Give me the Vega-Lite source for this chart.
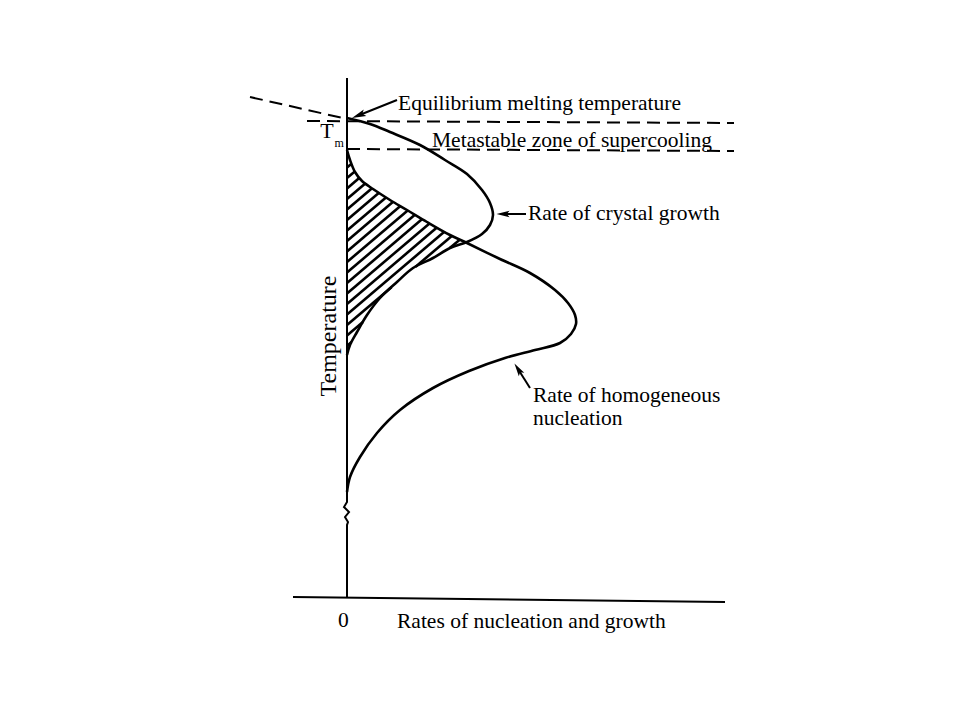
{
  "$schema": "https://vega.github.io/schema/vega-lite/v6.json",
  "width": 960,
  "height": 720,
  "autosize": "none",
  "padding": 0,
  "background": "white",
  "config": {"view": {"stroke": null}},
  "datasets": {
    "curves": [
      {"series": "growth", "i": 0, "x": 0, "t": 4.82},
      {"series": "growth", "i": 1, "x": 0.23, "t": 4.76},
      {"series": "growth", "i": 2, "x": 0.43, "t": 4.68},
      {"series": "growth", "i": 3, "x": 0.73, "t": 4.55},
      {"series": "growth", "i": 4, "x": 0.98, "t": 4.40},
      {"series": "growth", "i": 5, "x": 1.20, "t": 4.26},
      {"series": "growth", "i": 6, "x": 1.35, "t": 4.10},
      {"series": "growth", "i": 7, "x": 1.43, "t": 3.97},
      {"series": "growth", "i": 8, "x": 1.46, "t": 3.85},
      {"series": "growth", "i": 9, "x": 1.43, "t": 3.75},
      {"series": "growth", "i": 10, "x": 1.35, "t": 3.66},
      {"series": "growth", "i": 11, "x": 1.20, "t": 3.58},
      {"series": "growth", "i": 12, "x": 1.03, "t": 3.52},
      {"series": "growth", "i": 13, "x": 0.86, "t": 3.42},
      {"series": "growth", "i": 14, "x": 0.66, "t": 3.32},
      {"series": "growth", "i": 15, "x": 0.50, "t": 3.18},
      {"series": "growth", "i": 16, "x": 0.33, "t": 3.02},
      {"series": "growth", "i": 17, "x": 0.20, "t": 2.85},
      {"series": "growth", "i": 18, "x": 0.10, "t": 2.68},
      {"series": "growth", "i": 19, "x": 0.03, "t": 2.55},
      {"series": "growth", "i": 20, "x": 0, "t": 2.45},
      {"series": "nucleation", "i": 0, "x": 0, "t": 4.50},
      {"series": "nucleation", "i": 1, "x": 0.03, "t": 4.40},
      {"series": "nucleation", "i": 2, "x": 0.08, "t": 4.28},
      {"series": "nucleation", "i": 3, "x": 0.15, "t": 4.19},
      {"series": "nucleation", "i": 4, "x": 0.26, "t": 4.11},
      {"series": "nucleation", "i": 5, "x": 0.43, "t": 4.00},
      {"series": "nucleation", "i": 6, "x": 0.60, "t": 3.90},
      {"series": "nucleation", "i": 7, "x": 0.80, "t": 3.78},
      {"series": "nucleation", "i": 8, "x": 1.03, "t": 3.65},
      {"series": "nucleation", "i": 9, "x": 1.20, "t": 3.57},
      {"series": "nucleation", "i": 10, "x": 1.53, "t": 3.41},
      {"series": "nucleation", "i": 11, "x": 1.83, "t": 3.27},
      {"series": "nucleation", "i": 12, "x": 2.08, "t": 3.10},
      {"series": "nucleation", "i": 13, "x": 2.21, "t": 2.97},
      {"series": "nucleation", "i": 14, "x": 2.28, "t": 2.85},
      {"series": "nucleation", "i": 15, "x": 2.29, "t": 2.76},
      {"series": "nucleation", "i": 16, "x": 2.24, "t": 2.66},
      {"series": "nucleation", "i": 17, "x": 2.13, "t": 2.57},
      {"series": "nucleation", "i": 18, "x": 1.88, "t": 2.50},
      {"series": "nucleation", "i": 19, "x": 1.58, "t": 2.42},
      {"series": "nucleation", "i": 20, "x": 1.22, "t": 2.29},
      {"series": "nucleation", "i": 21, "x": 0.86, "t": 2.12},
      {"series": "nucleation", "i": 22, "x": 0.53, "t": 1.90},
      {"series": "nucleation", "i": 23, "x": 0.30, "t": 1.67},
      {"series": "nucleation", "i": 24, "x": 0.13, "t": 1.43},
      {"series": "nucleation", "i": 25, "x": 0.03, "t": 1.23},
      {"series": "nucleation", "i": 26, "x": 0, "t": 1.08}
    ],
    "hatch": [
      {"x": 0, "t": 4.43, "x2": 0.017, "t2": 4.444},
      {"x": 0, "t": 4.325, "x2": 0.045, "t2": 4.363},
      {"x": 0, "t": 4.22, "x2": 0.078, "t2": 4.286},
      {"x": 0, "t": 4.115, "x2": 0.125, "t2": 4.222},
      {"x": 0, "t": 4.01, "x2": 0.183, "t2": 4.166},
      {"x": 0, "t": 3.905, "x2": 0.25, "t2": 4.117},
      {"x": 0, "t": 3.80, "x2": 0.32, "t2": 4.072},
      {"x": 0, "t": 3.695, "x2": 0.39, "t2": 4.026},
      {"x": 0, "t": 3.59, "x2": 0.461, "t2": 3.982},
      {"x": 0, "t": 3.485, "x2": 0.534, "t2": 3.939},
      {"x": 0, "t": 3.38, "x2": 0.607, "t2": 3.896},
      {"x": 0, "t": 3.275, "x2": 0.679, "t2": 3.852},
      {"x": 0, "t": 3.17, "x2": 0.752, "t2": 3.809},
      {"x": 0, "t": 3.065, "x2": 0.825, "t2": 3.766},
      {"x": 0, "t": 2.96, "x2": 0.899, "t2": 3.724},
      {"x": 0, "t": 2.855, "x2": 0.973, "t2": 3.682},
      {"x": 0, "t": 2.75, "x2": 0.445, "t2": 3.128},
      {"x": 0.686, "t": 3.333, "x2": 1.048, "t2": 3.641},
      {"x": 0, "t": 2.645, "x2": 0.159, "t2": 2.78},
      {"x": 1.028, "t": 3.519, "x2": 1.124, "t2": 3.60},
      {"x": 0, "t": 2.54, "x2": 0.045, "t2": 2.579}
    ],
    "axis": [
      {"i": 0, "x": 0, "t": 5.22},
      {"i": 1, "x": 0, "t": 0.98},
      {"i": 2, "x": -0.03, "t": 0.93},
      {"i": 3, "x": 0.02, "t": 0.88},
      {"i": 4, "x": -0.02, "t": 0.83},
      {"i": 5, "x": 0.01, "t": 0.78},
      {"i": 6, "x": 0, "t": 0.75},
      {"i": 7, "x": 0, "t": 0.02}
    ],
    "dashed": [
      {"x": -0.97, "t": 5.03, "x2": 0, "t2": 4.81},
      {"x": -0.40, "t": 4.79, "x2": 3.87, "t2": 4.77},
      {"x": 0, "t": 4.51, "x2": 3.87, "t2": 4.49}
    ],
    "baseline": [
      {"x": -0.54, "t": 0.03, "x2": 3.78, "t2": -0.02}
    ],
    "arrowshafts": [
      {"x": 0.50, "t": 5.00, "x2": 0.10, "t2": 4.84},
      {"x": 1.79, "t": 3.86, "x2": 1.55, "t2": 3.86},
      {"x": 1.83, "t": 2.12, "x2": 1.71, "t2": 2.31}
    ],
    "labels": [
      {"label": "Equilibrium melting temperature", "x": 0.51, "t": 4.90},
      {"label": "Metastable zone of supercooling", "x": 0.85, "t": 4.53},
      {"label": "Rate of crystal growth", "x": 1.81, "t": 3.80},
      {"label": "Rate of homogeneous", "x": 1.86, "t": 1.98},
      {"label": "nucleation", "x": 1.86, "t": 1.75},
      {"label": "Rates of nucleation and growth", "x": 0.50, "t": -0.28},
      {"label": "0", "x": -0.09, "t": -0.27}
    ]
  },
  "layer": [
    {
      "data": {"name": "hatch"},
      "mark": {"type": "rule", "color": "black", "strokeWidth": 2.6},
      "encoding": {
        "x": {"field": "x", "type": "quantitative", "scale": {"domain": [-3.47, 6.13], "nice": false, "zero": false}, "axis": null},
        "y": {"field": "t", "type": "quantitative", "scale": {"domain": [-1.2, 6.0], "nice": false, "zero": false}, "axis": null},
        "x2": {"field": "x2"},
        "y2": {"field": "t2"}
      }
    },
    {
      "data": {"name": "dashed"},
      "mark": {"type": "rule", "color": "black", "strokeWidth": 2, "strokeDash": [13, 7]},
      "encoding": {
        "x": {"field": "x", "type": "quantitative", "scale": {"domain": [-3.47, 6.13], "nice": false, "zero": false}, "axis": null},
        "y": {"field": "t", "type": "quantitative", "scale": {"domain": [-1.2, 6.0], "nice": false, "zero": false}, "axis": null},
        "x2": {"field": "x2"},
        "y2": {"field": "t2"}
      }
    },
    {
      "data": {"name": "baseline"},
      "mark": {"type": "rule", "color": "black", "strokeWidth": 2},
      "encoding": {
        "x": {"field": "x", "type": "quantitative", "scale": {"domain": [-3.47, 6.13], "nice": false, "zero": false}, "axis": null},
        "y": {"field": "t", "type": "quantitative", "scale": {"domain": [-1.2, 6.0], "nice": false, "zero": false}, "axis": null},
        "x2": {"field": "x2"},
        "y2": {"field": "t2"}
      }
    },
    {
      "data": {"name": "axis"},
      "mark": {"type": "line", "color": "black", "strokeWidth": 2},
      "encoding": {
        "x": {"field": "x", "type": "quantitative", "scale": {"domain": [-3.47, 6.13], "nice": false, "zero": false}, "axis": null},
        "y": {"field": "t", "type": "quantitative", "scale": {"domain": [-1.2, 6.0], "nice": false, "zero": false}, "axis": null},
        "order": {"field": "i"}
      }
    },
    {
      "data": {"name": "curves"},
      "mark": {"type": "line", "color": "black", "strokeWidth": 2.6, "interpolate": "catmull-rom"},
      "encoding": {
        "x": {"field": "x", "type": "quantitative", "scale": {"domain": [-3.47, 6.13], "nice": false, "zero": false}, "axis": null},
        "y": {"field": "t", "type": "quantitative", "scale": {"domain": [-1.2, 6.0], "nice": false, "zero": false}, "axis": null},
        "detail": {"field": "series"},
        "order": {"field": "i"}
      }
    },
    {
      "data": {"name": "arrowshafts"},
      "mark": {"type": "rule", "color": "black", "strokeWidth": 2},
      "encoding": {
        "x": {"field": "x", "type": "quantitative", "scale": {"domain": [-3.47, 6.13], "nice": false, "zero": false}, "axis": null},
        "y": {"field": "t", "type": "quantitative", "scale": {"domain": [-1.2, 6.0], "nice": false, "zero": false}, "axis": null},
        "x2": {"field": "x2"},
        "y2": {"field": "t2"}
      }
    },
    {
      "data": {"values": [{"x": 0.115, "t": 4.846}]},
      "mark": {"type": "point", "shape": "M-1,0L1,-0.5L0.6,0L1,0.5Z", "filled": true, "color": "black", "opacity": 1, "size": 200, "angle": 338},
      "encoding": {
        "x": {"field": "x", "type": "quantitative", "scale": {"domain": [-3.47, 6.13], "nice": false, "zero": false}, "axis": null},
        "y": {"field": "t", "type": "quantitative", "scale": {"domain": [-1.2, 6.0], "nice": false, "zero": false}, "axis": null}
      }
    },
    {
      "data": {"values": [{"x": 1.56, "t": 3.86}]},
      "mark": {"type": "point", "shape": "M-1,0L1,-0.5L0.6,0L1,0.5Z", "filled": true, "color": "black", "opacity": 1, "size": 170, "angle": 0},
      "encoding": {
        "x": {"field": "x", "type": "quantitative", "scale": {"domain": [-3.47, 6.13], "nice": false, "zero": false}, "axis": null},
        "y": {"field": "t", "type": "quantitative", "scale": {"domain": [-1.2, 6.0], "nice": false, "zero": false}, "axis": null}
      }
    },
    {
      "data": {"values": [{"x": 1.71, "t": 2.31}]},
      "mark": {"type": "point", "shape": "M-1,0L1,-0.5L0.6,0L1,0.5Z", "filled": true, "color": "black", "opacity": 1, "size": 170, "angle": 57},
      "encoding": {
        "x": {"field": "x", "type": "quantitative", "scale": {"domain": [-3.47, 6.13], "nice": false, "zero": false}, "axis": null},
        "y": {"field": "t", "type": "quantitative", "scale": {"domain": [-1.2, 6.0], "nice": false, "zero": false}, "axis": null}
      }
    },
    {
      "data": {"name": "labels"},
      "mark": {"type": "text", "font": "Liberation Serif", "fontSize": 21.5, "color": "black", "align": "left", "baseline": "alphabetic"},
      "encoding": {
        "x": {"field": "x", "type": "quantitative", "scale": {"domain": [-3.47, 6.13], "nice": false, "zero": false}, "axis": null},
        "y": {"field": "t", "type": "quantitative", "scale": {"domain": [-1.2, 6.0], "nice": false, "zero": false}, "axis": null},
        "text": {"field": "label"}
      }
    },
    {
      "data": {"values": [{"label": "T", "x": -0.20, "t": 4.62}]},
      "mark": {"type": "text", "font": "Liberation Serif", "fontSize": 22, "color": "black", "align": "center", "baseline": "alphabetic"},
      "encoding": {
        "x": {"field": "x", "type": "quantitative", "scale": {"domain": [-3.47, 6.13], "nice": false, "zero": false}, "axis": null},
        "y": {"field": "t", "type": "quantitative", "scale": {"domain": [-1.2, 6.0], "nice": false, "zero": false}, "axis": null},
        "text": {"field": "label"}
      }
    },
    {
      "data": {"values": [{"label": "m", "x": -0.125, "t": 4.53}]},
      "mark": {"type": "text", "font": "Liberation Serif", "fontSize": 12, "color": "black", "align": "left", "baseline": "alphabetic"},
      "encoding": {
        "x": {"field": "x", "type": "quantitative", "scale": {"domain": [-3.47, 6.13], "nice": false, "zero": false}, "axis": null},
        "y": {"field": "t", "type": "quantitative", "scale": {"domain": [-1.2, 6.0], "nice": false, "zero": false}, "axis": null},
        "text": {"field": "label"}
      }
    },
    {
      "data": {"values": [{"label": "Temperature", "x": -0.11, "t": 2.64}]},
      "mark": {"type": "text", "font": "Liberation Serif", "fontSize": 24, "color": "black", "align": "center", "baseline": "alphabetic", "angle": 270},
      "encoding": {
        "x": {"field": "x", "type": "quantitative", "scale": {"domain": [-3.47, 6.13], "nice": false, "zero": false}, "axis": null},
        "y": {"field": "t", "type": "quantitative", "scale": {"domain": [-1.2, 6.0], "nice": false, "zero": false}, "axis": null},
        "text": {"field": "label"}
      }
    }
  ]
}
